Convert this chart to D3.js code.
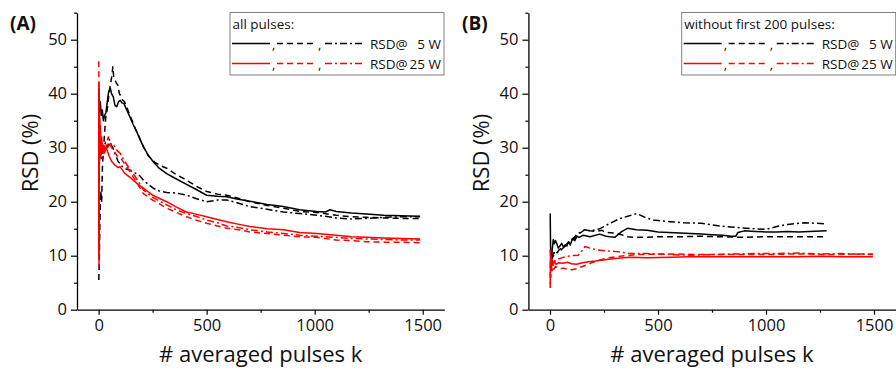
<!DOCTYPE html>
<html><head><meta charset="utf-8">
<script src="https://cdn.jsdelivr.net/npm/d3@7/dist/d3.min.js"></script>
<style>body{margin:0;background:#fff}svg{display:block}text{font-family:"Open Sans",sans-serif}</style>
</head><body><svg id="c" width="896" height="368"></svg>
<script>
// ---- data ----
const xTicksMajor = [0, 500, 1000, 1500];
const xTicksMinor = [250, 750, 1250];
const yTicksMajor = [0, 10, 20, 30, 40, 50];
const yTicksMinor = [5, 15, 25, 35, 45, 55];
const panelLabels = ["(A)", "(B)"];
const legendTitles = ["all pulses:", "without first 200 pulses:"];
const legendRows = [["RSD@", "5 W"], ["RSD@", "25 W"]];
const xLabel = "# averaged pulses k";
const yLabel = "RSD (%)";

// Panel A: all pulses
const a5Solid = [[1,12],[2,40],[5,37],[8,38.5],[12,36],[17,37],[22,35],[28,36],[34,36.5],[40,38.5],[47,40.5],[54,41],[60,40],[68,39.4],[76,37.8],[84,37.6],[92,38.5],[100,38.8],[108,38.3],[117,38.2],[130,37],[145,35.7],[160,34.3],[176,33],[192,31.5],[207,30.2],[230,28.6],[253,27.4],[280,26.2],[315,25.2],[360,24.2],[407,23.2],[450,22.3],[500,21.2],[550,21],[593,20.9],[640,20.5],[700,20.1],[780,19.5],[855,19.1],[930,18.5],[1009,18.2],[1050,18.1],[1071,18.5],[1100,18.2],[1170,17.9],[1240,17.7],[1320,17.5],[1400,17.4],[1488,17.3]];
const a5Dash = [[1,5.5],[3,9],[6,16],[10,22],[14,20],[18,27],[22,29],[28,33],[34,36],[40,37],[48,40],[56,42],[62,43.5],[66,45],[70,43],[76,42.5],[82,42],[90,41.5],[96,40],[104,39.5],[112,38.8],[120,38.5],[135,37],[150,35.5],[170,33.5],[190,31.8],[207,30.2],[230,28.5],[260,27.3],[290,26.6],[315,26.2],[360,25],[407,24],[450,22.9],[500,21.9],[550,21.4],[593,21.2],[650,20.6],[700,20],[780,19.3],[855,18.8],[930,18.2],[1009,18],[1100,17.5],[1170,17.2],[1240,17.1],[1320,17],[1400,16.9],[1488,16.9]];
const a5DashDot = [[1,41],[4,36],[7,31],[10,29],[14,28],[20,29],[26,30],[32,31],[40,30],[50,31.5],[58,30.5],[66,30],[75,29],[90,27.5],[110,26.5],[130,26],[150,25.8],[170,25.3],[190,24.8],[207,24],[230,23.2],[253,22.5],[280,22],[315,21.7],[360,21.6],[407,21.2],[450,20.6],[500,20],[550,20.3],[593,20.3],[640,19.8],[700,19.1],[780,18.6],[855,18.1],[930,17.8],[1009,17.5],[1100,17],[1170,16.8],[1240,16.9],[1320,17.1],[1400,17.2],[1488,17.2]];
const a25Solid = [[1,10],[2,42],[3,25],[4,38],[6,30],[8,34],[11,29],[14,32],[18,29.5],[22,30.5],[27,29],[33,30],[40,29.5],[48,28.5],[60,27.5],[75,26.8],[90,26.3],[99,26.5],[120,25.3],[145,24.5],[160,24],[180,23.3],[207,22.5],[250,21.2],[315,20],[360,19],[407,18.1],[450,17.7],[500,17.2],[550,16.7],[593,16.3],[650,15.8],[700,15.4],[780,15],[855,14.8],[930,14.3],[1009,14.1],[1100,13.8],[1170,13.5],[1240,13.4],[1320,13.3],[1400,13.2],[1488,13.1]];
const a25Dash = [[1,46],[2,8],[3,36],[5,29],[7,34],[10,28],[14,31],[18,29],[24,30.5],[30,29],[38,31],[45,32],[52,31],[60,30],[70,29.5],[85,28.5],[99,28.3],[120,27],[145,25.6],[160,24.6],[180,23.3],[207,21.5],[250,20.3],[315,18.8],[360,18],[407,17.2],[450,16.6],[500,16],[550,15.5],[593,15.1],[650,14.8],[700,14.4],[780,14.1],[855,13.8],[930,13.5],[1009,13.4],[1100,12.9],[1170,12.8],[1240,12.6],[1320,12.5],[1400,12.5],[1488,12.4]];
const a25DashDot = [[1,38],[3,24],[5,34],[8,29],[12,31.5],[16,29],[22,30],[30,30.5],[40,30],[50,30.5],[60,30.8],[70,30.5],[85,29.5],[99,29],[120,27.5],[145,26],[160,25.2],[180,24],[207,22.2],[250,20.8],[315,19.4],[360,18.5],[407,17.8],[450,17.3],[500,16.6],[550,16.1],[593,15.5],[650,15.2],[700,14.8],[780,14.4],[855,14.1],[930,13.8],[1009,13.6],[1100,13.4],[1170,13.2],[1240,13.1],[1320,13],[1400,12.9],[1488,12.9]];

// Panel B: without first 200 pulses
const b5Solid = [[1,17.8],[3,10],[6,9.2],[10,11],[15,13],[20,12.2],[25,12.8],[31,12.3],[38,11.4],[46,11.8],[54,12.3],[62,11.6],[70,12],[78,11.8],[86,12.6],[94,12],[104,13.2],[115,12.8],[125,13.6],[135,13.4],[154,13.8],[185,13.5],[230,14],[260,13.6],[277,13.5],[300,13.4],[330,14.4],[360,15.1],[400,14.8],[450,14.7],[500,14.4],[550,14.3],[600,14.2],[650,14.1],[700,14],[750,13.9],[800,13.8],[840,13.6],[860,13.6],[870,14.3],[900,14.6],[950,14.5],[1000,14.4],[1050,14.4],[1100,14.5],[1150,14.4],[1200,14.5],[1281,14.6]];
const b5Dash = [[2,11],[5,9.5],[10,10],[18,10.6],[28,10.2],[40,11],[55,11.5],[70,11.8],[85,12.5],[100,12.8],[120,13.5],[140,14.2],[160,14.8],[185,14.6],[210,14.5],[240,14.7],[260,14.3],[300,14.2],[340,13.8],[360,13.5],[400,13.4],[450,13.4],[500,13.5],[600,13.5],[700,13.6],[800,13.5],[900,13.4],[1000,13.5],[1100,13.5],[1200,13.5],[1281,13.5]];
const b5DashDot = [[5,9],[15,10],[30,10.5],[50,11],[70,11.8],[90,12.5],[110,13.3],[125,14],[139,14.3],[160,14.8],[190,14.6],[231,15],[278,16],[324,16.9],[360,17.3],[401,17.8],[440,17.1],[478,16.6],[555,16.3],[620,16.1],[700,16],[787,15.5],[870,15.2],[940,15],[1003,14.9],[1050,15.4],[1100,15.8],[1180,16.1],[1230,16],[1281,15.9]];
const b25Solid = [[1,4.8],[2,11],[3,7],[5,10],[7,8],[10,9.3],[14,8.2],[20,9],[28,8.4],[40,8.7],[60,8.6],[80,8.8],[100,8.5],[123,8.4],[150,8.7],[180,8.9],[210,9],[247,9.2],[300,9.5],[370,9.7],[450,9.6],[555,9.7],[650,9.8],[750,9.8],[850,9.8],[950,9.8],[1050,9.8],[1150,9.8],[1250,9.9],[1350,9.8],[1495,9.8]];
const b25Dash = [[1,4],[2,9],[4,6],[6,8.5],[9,7.2],[13,8],[18,7.5],[25,8],[35,7.8],[50,7.6],[62,7.7],[80,7.5],[100,7.4],[123,7.6],[150,8],[170,8.3],[200,8.8],[231,9.2],[270,9.6],[324,9.9],[400,10.2],[500,10.3],[600,10.3],[700,10.2],[800,10.2],[900,10.2],[1000,10.2],[1100,10.3],[1200,10.3],[1300,10.2],[1400,10.3],[1495,10.3]];
const b25DashDot = [[3,8],[8,9],[15,8.6],[25,9.2],[35,9.4],[46,9.5],[70,9.8],[100,10],[131,10.1],[150,11],[162,11.7],[185,11.4],[216,11.1],[260,10.9],[300,10.8],[370,10.4],[450,10.4],[555,10.2],[650,10.1],[750,10.2],[850,10.3],[950,10.4],[1050,10.4],[1150,10.5],[1250,10.3],[1350,10.4],[1495,10.2]];

// ---- styling ----
const BLACK = "#000", RED = "#ff0000";
const DASH = { solid: null, dash: "6,4", dashdot: "7,3,2,3" };

const panels = [
  { left: 77, right: 444.3, label: panelLabels[0], labelX: 10, title: legendTitles[0], boxX: 230,
    series: [
      [a5Solid, BLACK, "solid"], [a5Dash, BLACK, "dash"], [a5DashDot, BLACK, "dashdot"],
      [a25Solid, RED, "solid"], [a25Dash, RED, "dash"], [a25DashDot, RED, "dashdot"] ] },
  { left: 528.4, right: 895.6, label: panelLabels[1], labelX: 462, title: legendTitles[1], boxX: 681.7,
    series: [
      [b5Solid, BLACK, "solid"], [b5Dash, BLACK, "dash"], [b5DashDot, BLACK, "dashdot"],
      [b25Solid, RED, "solid"], [b25Dash, RED, "dash"], [b25DashDot, RED, "dashdot"] ] }
];

const svg = d3.select("#c");
const plotTop = 12.7, plotBottom = 309.7;

panels.forEach(p => {
  const x = d3.scaleLinear().domain([-100, 1600]).range([p.left, p.right]);
  const y = d3.scaleLinear().domain([0, 55]).range([plotBottom, plotTop]);
  const g = svg.append("g");

  // minor ticks
  g.append("g").attr("transform", `translate(0,${plotBottom})`)
    .call(d3.axisBottom(x).tickValues(xTicksMinor).tickSize(3).tickFormat(""))
    .call(a => a.select(".domain").remove());
  g.append("g").attr("transform", `translate(${p.left},0)`)
    .call(d3.axisLeft(y).tickValues(yTicksMinor).tickSize(3).tickFormat(""))
    .call(a => a.select(".domain").remove());

  const xa = g.append("g").attr("transform", `translate(0,${plotBottom})`)
    .call(d3.axisBottom(x).tickValues(xTicksMajor).tickFormat(d3.format("d"))
      .tickSize(5).tickSizeOuter(0).tickPadding(5));
  const ya = g.append("g").attr("transform", `translate(${p.left},0)`)
    .call(d3.axisLeft(y).tickValues(yTicksMajor).tickFormat(d3.format("d"))
      .tickSize(6).tickSizeOuter(0).tickPadding(4));
  [xa, ya].forEach(a => {
    a.selectAll("text").attr("font-size", 16.5).attr("fill", "#111").style("font-family", '"Open Sans",sans-serif');
    a.selectAll("line,path").attr("stroke", "#000").attr("stroke-width", 1.3);
  });
  g.selectAll(".tick line").attr("stroke", "#000").attr("stroke-width", 1.2);

  // lines
  const line = d3.line().x(d => x(d[0])).y(d => y(d[1]));
  p.series.forEach(([data, color, style]) => {
    g.append("path").datum(data).attr("d", line)
      .attr("fill", "none").attr("stroke", color).attr("stroke-width", 1.5)
      .attr("stroke-linejoin", "round")
      .attr("stroke-dasharray", DASH[style]);
  });

  // axis labels
  g.append("text").attr("x", (p.left + p.right) / 2).attr("y", 362)
    .attr("text-anchor", "middle").attr("font-size", 22).attr("fill", "#111").text(xLabel);
  g.append("text").attr("transform", `translate(${p.left - 39},153) rotate(-90)`)
    .attr("text-anchor", "middle").attr("font-size", 22).attr("fill", "#111").text(yLabel);

  // panel label
  g.append("text").attr("x", p.labelX).attr("y", 30).attr("font-size", 19)
    .attr("font-weight", "bold").attr("fill", "#111").text(p.label);

  // legend
  const bx = p.boxX, by = 12.5;
  const lg = g.append("g").attr("transform", `translate(${bx},${by})`);
  lg.append("rect").attr("width", 214).attr("height", 62.5)
    .attr("fill", "#fff").attr("stroke", "#808080").attr("stroke-width", 1);
  lg.append("text").attr("x", 2.5).attr("y", 16).attr("font-size", 13.5).attr("fill", "#111").text(p.title);
  [BLACK, RED].forEach((col, i) => {
    const ry = 31 + i * 20;
    const segs = [["solid", 2, 40], ["dash", 47, 85], ["dashdot", 95, 133]];
    segs.forEach(([st, x0, x1]) => {
      lg.append("line").attr("x1", x0).attr("x2", x1).attr("y1", ry).attr("y2", ry)
        .attr("stroke", col).attr("stroke-width", 1.5).attr("stroke-dasharray", DASH[st]);
    });
    [42, 88].forEach(cx => lg.append("text").attr("x", cx).attr("y", ry + 5)
      .attr("font-size", 13).attr("fill", "#111").text(","));
    lg.append("text").attr("x", 140).attr("y", ry + 5).attr("font-size", 13.5).attr("fill", "#111").text(legendRows[i][0]);
    lg.append("text").attr("x", 211).attr("y", ry + 5).attr("font-size", 13.5).attr("text-anchor", "end")
      .attr("fill", "#111").text(legendRows[i][1]);
  });
});
</script></body></html>
